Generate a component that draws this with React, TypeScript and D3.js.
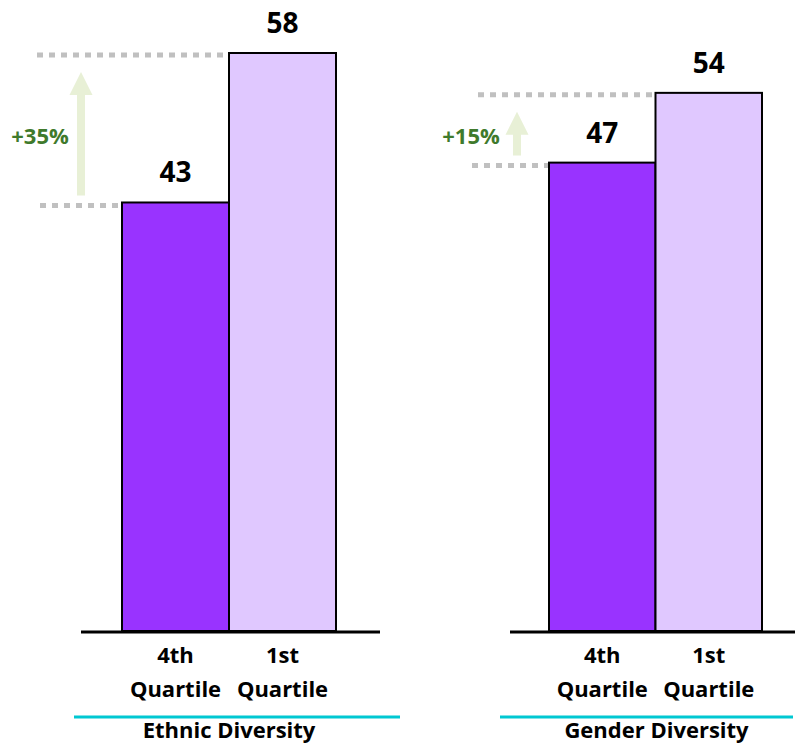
import React from 'react';
import * as d3 from 'd3';

const panels = ['Ethnic Diversity', 'Gender Diversity'];
const quartiles = ['4th Quartile', '1st Quartile'];
const ethnicValues = [43, 58];
const genderValues = [47, 54];
const upliftLabels = ['+35%', '+15%'];

const seriesValues = [ethnicValues, genderValues];

const width = 805;
const height = 744;
const baseline = 631;
const font = '"Open Sans", sans-serif';
const barColors = ['#9933ff', '#e0c8ff'];
const green = '#3f7a2c';
const arrowFill = '#e8f0d6';
const dotGray = '#c0c0c0';

// per-panel layout (pixel boxes only, no data)
const layout = [
  { bars: [122, 336], axis: [81, 380], rule: [74, 400], arrowX: 81, labelX: 40, dotLeft: [40, 37] },
  { bars: [549, 762], axis: [510, 795], rule: [500, 793], arrowX: 517, labelX: 471, dotLeft: [472, 478] },
];

const App: React.FC = () => {
  const svgRef = React.useRef<SVGSVGElement>(null);

  React.useEffect(() => {
    const svg = d3.select(svgRef.current);
    svg.selectAll('*').remove();

    const yScale = d3.scaleLinear().domain([0, 58]).range([baseline, 53]);

    panels.forEach((panel, p) => {
      const lay = layout[p];
      const values = seriesValues[p];
      const g = svg.append('g');

      const xScale = d3.scaleBand<string>()
        .domain(quartiles)
        .range(lay.bars as [number, number])
        .padding(0);

      // dotted guide lines
      const lowY = yScale(values[0]);
      const highY = yScale(values[1]);
      g.append('line')
        .attr('x1', lay.dotLeft[0]).attr('x2', xScale(quartiles[0])!)
        .attr('y1', lowY + 3).attr('y2', lowY + 3)
        .attr('stroke', dotGray).attr('stroke-width', 5)
        .attr('stroke-dasharray', '6,6');
      g.append('line')
        .attr('x1', lay.dotLeft[1]).attr('x2', xScale(quartiles[1])!)
        .attr('y1', highY + 2).attr('y2', highY + 2)
        .attr('stroke', dotGray).attr('stroke-width', 5)
        .attr('stroke-dasharray', '6,6');

      // uplift arrow
      const ax = lay.arrowX;
      const tip = highY + 19;
      const headBase = tip + 23;
      const tail = lowY - 7;
      const arrow = d3.path();
      arrow.moveTo(ax, tip);
      arrow.lineTo(ax + 11.5, headBase);
      arrow.lineTo(ax + 4, headBase);
      arrow.lineTo(ax + 4, tail);
      arrow.lineTo(ax - 4, tail);
      arrow.lineTo(ax - 4, headBase);
      arrow.lineTo(ax - 11.5, headBase);
      arrow.closePath();
      g.append('path').attr('d', arrow.toString()).attr('fill', arrowFill);

      g.append('text')
        .attr('x', lay.labelX)
        .attr('y', (tip + tail) / 2 + 4)
        .attr('text-anchor', 'middle')
        .attr('dominant-baseline', 'middle')
        .attr('font-family', font)
        .attr('font-weight', 700)
        .attr('font-size', 22)
        .attr('fill', green)
        .text(upliftLabels[p]);

      // bars
      g.selectAll('.bar')
        .data(quartiles)
        .join('rect')
        .attr('class', 'bar')
        .attr('x', d => xScale(d)!)
        .attr('y', (_, i) => yScale(values[i]))
        .attr('width', xScale.bandwidth())
        .attr('height', (_, i) => baseline - yScale(values[i]))
        .attr('fill', (_, i) => barColors[i])
        .attr('stroke', '#000')
        .attr('stroke-width', 2);

      // value labels
      g.selectAll('.value')
        .data(quartiles)
        .join('text')
        .attr('class', 'value')
        .attr('x', d => xScale(d)! + xScale.bandwidth() / 2)
        .attr('y', (_, i) => yScale(values[i]) - 20)
        .attr('text-anchor', 'middle')
        .attr('font-family', font)
        .attr('font-weight', 700)
        .attr('font-size', 28)
        .attr('fill', '#000')
        .text((_, i) => values[i]);

      // axis line
      g.append('line')
        .attr('x1', lay.axis[0]).attr('x2', lay.axis[1])
        .attr('y1', baseline + 1).attr('y2', baseline + 1)
        .attr('stroke', '#000').attr('stroke-width', 3);

      // tick labels
      quartiles.forEach(q => {
        const [first, second] = q.split(' ');
        const cx = xScale(q)! + xScale.bandwidth() / 2;
        const t = g.append('text')
          .attr('text-anchor', 'middle')
          .attr('font-family', font)
          .attr('font-weight', 700)
          .attr('font-size', 22)
          .attr('fill', '#000');
        t.append('tspan').attr('x', cx).attr('y', 663).text(first);
        t.append('tspan').attr('x', cx).attr('y', 697).text(second);
      });

      // category rule and title
      g.append('line')
        .attr('x1', lay.rule[0]).attr('x2', lay.rule[1])
        .attr('y1', 717).attr('y2', 717)
        .attr('stroke', '#00c8d2').attr('stroke-width', 3);
      g.append('text')
        .attr('x', (lay.rule[0] + lay.rule[1]) / 2 + (p === 0 ? -8 : 10))
        .attr('y', 738)
        .attr('text-anchor', 'middle')
        .attr('font-family', font)
        .attr('font-weight', 700)
        .attr('font-size', 22)
        .attr('fill', '#000')
        .text(panel);
    });
  }, []);

  return (
    <svg
      ref={svgRef}
      width={width}
      height={height}
      style={{ position: 'absolute', left: 0, top: 0, background: '#fff' }}
    />
  );
};

export default App;
